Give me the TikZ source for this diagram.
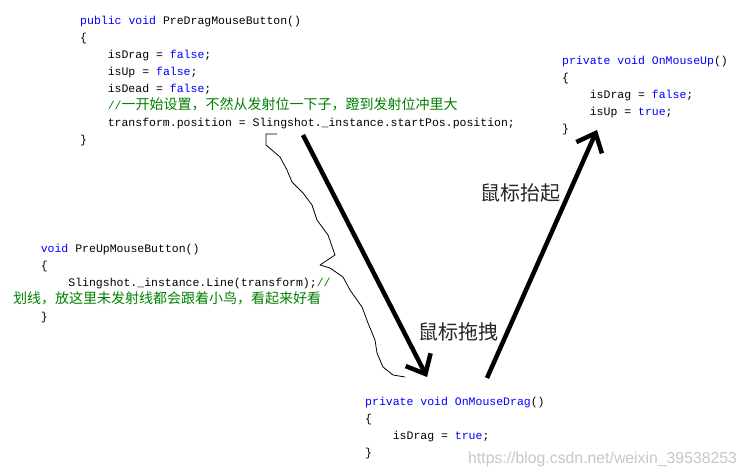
\documentclass[tikz,border=0pt]{standalone}
\usepackage{fontspec}
\setmainfont{Liberation Sans}
\setmonofont{Liberation Mono}
\newfontfamily\cjk{Noto Sans CJK SC}
\usetikzlibrary{arrows.meta}
\definecolor{kwblue}{HTML}{0000FF}
\definecolor{cmtgreen}{HTML}{008000}
\newcommand{\kw}[1]{\textcolor{kwblue}{#1}}
\newcommand{\cmt}[1]{\textcolor{cmtgreen}{#1}}
\newcommand{\cjkcmt}[1]{\textcolor{cmtgreen}{{\cjk\fontsize{14}{17}\selectfont #1}}}
\newcommand{\ind}{\hspace*{27.6pt}}
\tikzset{
	codenode/.style={
			anchor=north west,
			inner sep=0pt,
			align=left,
			font=\fontsize{11.5}{17}\selectfont\ttfamily
		},
	labelnode/.style={
			inner sep=0pt,
			text=black!85,
			font=\cjk\fontsize{20}{24}\selectfont
		},
	bigarrow/.style={
			line width=4.5pt,
			-{Straight Barb[length=16pt, width=28pt]}
		},
	handline/.style={
			line width=0.8pt,
			line join=round
		}
}

\begin{document}
\begin{tikzpicture}[x=1pt, y=-1pt]
\useasboundingbox[fill=white] (0,0) rectangle (748,476);
    % code blocks
    \node[codenode] (predrag) at (80,16) {\kw{public} \kw{void} PreDragMouseButton()\\
        \{\\
        \ind isDrag = \kw{false};\\
        \ind isUp = \kw{false};\\
        \ind isDead = \kw{false};\\
        \ind\cmt{//}\cjkcmt{一开始设置，不然从发射位一下子，蹬到发射位冲里大}\\
        \ind transform.position = Slingshot.\_instance.startPos.position;\\
        \}};
    \node[codenode] (mouseup) at (562,56) {\kw{private} \kw{void} \kw{OnMouseUp}()\\
        \{\\
        \ind isDrag = \kw{false};\\
        \ind isUp = \kw{true};\\
        \}};
    \node[codenode] (preup) at (13,244) {\ind\kw{void} PreUpMouseButton()\\
        \ind\{\\
        \ind\ind Slingshot.\_instance.Line(transform);\cmt{//}\\
        \cjkcmt{划线，放这里未发射线都会跟着小鸟，看起来好看}\\
        \ind\}};
    \node[codenode] (mousedrag) at (365,397) {\kw{private} \kw{void} \kw{OnMouseDrag}()\\
        \{\\
        \ind isDrag = \kw{true};\\
        \}};

    % labels
    \node[labelnode] (uplabel) at (520,193) {鼠标抬起};
    \node[labelnode] (draglabel) at (458,332) {鼠标拖拽};

    % arrows
    \coordinate (dragfrom) at (303,135);
    \coordinate (dragto) at (427,377);
    \coordinate (upfrom) at (487,378);
    \coordinate (upto) at (597,130);
    \draw[bigarrow] (dragfrom) -- (dragto);
    \draw[bigarrow] (upfrom) -- (upto);

    % hand drawn line
    \draw[handline] (277,134) -- (266,134) -- (266,145) -- (280,157) -- (287,170)
        -- (292,182) -- (303,193) -- (312,205) -- (317,220) -- (328,235)
        -- (335,255) -- (320,265) -- (330,268) -- (343,277) -- (350,290)
        -- (362,307) -- (368,323) -- (375,340) -- (377,353) -- (383,367)
        -- (393,375) -- (405,377);

    \node[anchor=west, inner sep=0pt, text=black!22, font=\fontsize{15.8}{18}\selectfont] (mark) at (468,459) {https://blog.csdn.net/weixin\_39538253};
\end{tikzpicture}
\end{document}
